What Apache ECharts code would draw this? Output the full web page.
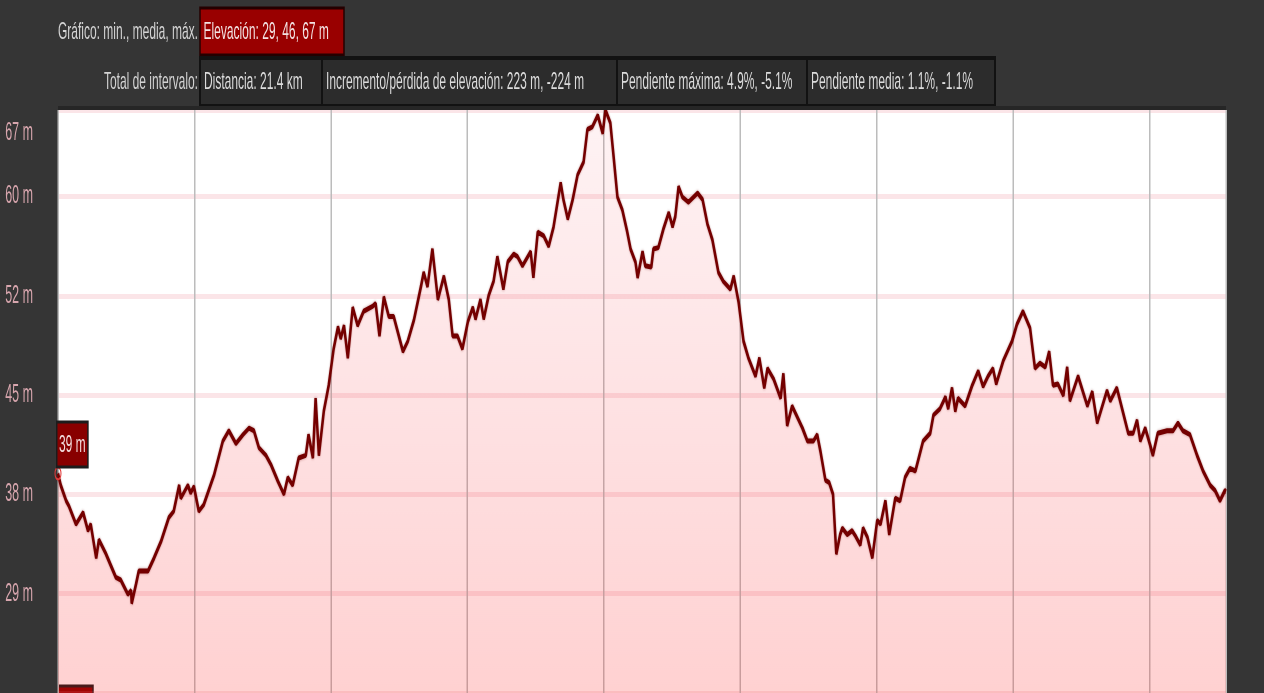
<!DOCTYPE html>
<html>
<head>
<meta charset="utf-8">
<script src="https://cdn.jsdelivr.net/npm/echarts@6/dist/echarts.min.js"></script>
<style>
html,body{margin:0;padding:0;background:#353535;overflow:hidden;}
#wrap{position:absolute;left:0;top:0;width:1264px;height:693px;overflow:hidden;background:#353535;}
#chart{width:2528px;height:693px;transform:scale(0.5,1);transform-origin:0 0;}
</style>
</head>
<body>
<div id="wrap"><div id="chart"></div></div>
<script>
// ---- data (distance in km, elevation in m) ----
const km = [0,0.05,0.15,0.20,0.33,0.46,0.55,0.60,0.70,0.75,0.88,1.06,1.15,1.28,1.34,1.35,1.43,1.48,1.65,1.76,1.89,2.03,2.12,2.22,2.25,2.38,2.43,2.49,2.58,2.67,2.86,3.02,3.13,3.26,3.39,3.50,
3.59,3.68,3.81,3.90,4.03,4.14,4.21,4.30,4.41,4.54,4.59,4.67,4.72,4.78,4.87,4.96,5.05,5.13,5.18,5.24,5.31,5.40,5.49,5.60,5.77,5.82,5.89,5.97,6.06,6.15,6.32,6.41,6.52,6.65,6.70,6.77,6.86,6.96,
7.07,7.16,7.23,7.32,7.41,7.51,7.60,7.65,7.74,7.80,7.89,7.98,8.05,8.16,8.24,8.35,8.42,8.51,8.66,8.71,8.79,8.90,8.99,9.08,9.21,9.26,9.34,9.43,9.52,9.63,9.70,9.79,9.89,9.98,10.03,10.12,10.18,10.25,10.34,10.43,10.49,
10.58,10.62,10.71,10.76,10.87,10.91,11.00,11.09,11.19,11.26,11.31,11.37,11.44,11.55,11.72,11.81,11.90,11.99,12.10,12.19,12.32,12.38,12.47,12.56,12.65,12.78,12.85,12.94,13.00,13.11,13.24,13.29,13.36,13.45,13.64,13.73,13.84,13.91,13.97,14.06,14.13,14.20,14.26,14.33,
14.37,14.46,14.55,14.61,14.70,14.75,14.83,14.92,15.01,15.07,15.16,15.23,15.34,15.43,15.52,15.61,15.71,15.85,15.98,16.04,16.16,16.26,16.31,16.38,16.44,16.49,16.62,16.75,16.86,16.95,17.04,17.13,17.19,17.32,17.48,17.57,17.68,17.81,
17.90,17.99,18.09,18.16,18.23,18.32,18.42,18.49,18.54,18.69,18.86,18.95,19.04,19.22,19.28,19.40,19.46,19.61,19.70,19.77,19.83,19.92,20.01,20.06,20.15,20.32,20.43,20.52,20.61,20.74,20.87,20.98,21.11,21.20,21.29,21.38,21.40];
const elev = [39.0,38.1,36.9,36.5,35.1,36.0,34.6,35.1,32.5,33.9,32.8,31.0,30.8,29.7,30.0,29.0,30.5,31.5,31.5,32.5,33.8,35.6,36.1,38.1,37.1,38.1,37.5,38.0,36.1,36.6,38.9,41.5,42.3,41.3,42.0,42.5,
42.3,41.0,40.4,39.7,38.4,37.4,38.7,38.1,40.2,40.4,42.0,40.2,44.8,40.4,43.8,45.8,48.6,50.3,49.4,50.4,47.9,51.8,50.4,51.5,51.9,52.1,49.6,52.6,51.1,51.1,48.4,49.2,50.8,53.4,54.5,53.4,56.3,52.4,
54.2,52.4,49.6,49.6,48.6,50.7,51.8,50.9,52.4,50.9,52.7,53.8,55.7,53.2,55.3,55.9,55.7,55.0,56.1,54.1,57.6,57.3,56.5,58.0,61.4,60.1,58.6,60.1,62.0,63.0,65.5,65.7,66.6,65.2,67.0,66.0,63.4,60.3,59.3,57.6,56.3,
55.3,54.1,56.1,55.0,54.9,56.3,56.4,57.8,59.1,58.0,58.8,61.1,60.3,59.9,60.6,60.1,58.2,57.0,54.5,53.8,53.2,54.2,52.2,49.2,47.9,46.5,47.9,45.6,47.1,46.3,44.8,46.7,42.7,44.2,42.5,41.5,41.5,42.0,40.7,38.5,38.3,37.4,32.8,34.3,
34.8,34.3,34.6,34.2,33.5,34.8,34.1,32.5,35.4,35.1,36.9,34.3,37.1,36.9,38.7,39.4,39.2,41.5,42.1,43.5,44.0,44.9,44.0,45.6,43.8,44.8,44.2,45.8,46.9,45.7,46.5,47.1,45.9,47.7,49.2,50.5,51.5,50.2,
47.1,47.5,47.2,48.4,45.8,45.9,45.0,47.2,44.6,46.5,44.2,45.3,42.9,45.4,44.6,45.6,44.6,42.1,42.1,43.1,41.5,42.5,41.2,40.4,42.1,42.3,42.3,42.9,42.3,42.0,40.4,39.2,38.1,37.7,36.9,37.7,37.6];
const yTickLabels = ['29 m','38 m','45 m','52 m','60 m','67 m'];
const row1Label = 'Gráfico: min., media, máx.';
const row1Box = 'Elevación: 29, 46, 67 m';
const row2Label = 'Total de intervalo:';
const row2Boxes = ['Distancia: 21.4 km','Incremento/pérdida de elevación: 223 m, -224 m','Pendiente máxima: 4.9%, -5.1%','Pendiente media: 1.1%, -1.1%'];

// ---- layout (internal coordinates: chart is drawn 2x wide and squeezed horizontally) ----
const FONT = '"Liberation Sans", Arial, sans-serif';
const font24 = '24px ' + FONT;
const row2Edges = [400, 644, 1234, 1614, 1990];

const chart = echarts.init(document.getElementById('chart'));
const data = km.map((k, i) => [k, elev[i]]);

const graphics = [
  {type:'text', x:396, y:32, style:{text:row1Label, font:font24, fill:'#d4d4d4', align:'right', verticalAlign:'middle'}},
  {type:'rect', shape:{x:400, y:8, width:288, height:47}, style:{fill:'#990000', stroke:'#240000', lineWidth:3}},
  {type:'text', x:407, y:32, style:{text:row1Box, font:font24, fill:'#f3e3e3', align:'left', verticalAlign:'middle'}},
  {type:'text', x:396, y:82, style:{text:row2Label, font:font24, fill:'#d4d4d4', align:'right', verticalAlign:'middle'}},
  {type:'rect', shape:{x:116, y:686, width:70, height:12}, style:{fill:'#8a0000', stroke:'#1c1c1c', lineWidth:3}}
];
for (let i = 0; i < row2Boxes.length; i++) {
  graphics.push({type:'rect', shape:{x:row2Edges[i], y:58, width:row2Edges[i+1]-row2Edges[i], height:48},
    style:{fill:'#2c2c2c', stroke:'#121212', lineWidth:4}});
  graphics.push({type:'text', x:row2Edges[i] + 8, y:82,
    style:{text:row2Boxes[i], font:font24, fill:'#dcdcdc', align:'left', verticalAlign:'middle'}});
}
// dark top edge of the plot
graphics.push({type:'rect', z:100, shape:{x:116, y:106, width:2336, height:4}, style:{fill:'#262626'}});

const labelColor = '#d8a6ae';
chart.setOption({
  backgroundColor:'#353535',
  animation:false,
  grid:{left:116, right:76, top:110, bottom:-2.75, show:true, backgroundColor:'#ffffff', borderWidth:0},
  xAxis:{type:'value', min:0, max:21.4, interval:2.5,
    axisLine:{show:false}, axisTick:{show:false}, axisLabel:{show:false},
    splitLine:{show:true, lineStyle:{color:'#bcbcbc', width:3}}},
  yAxis:[
    {type:'value', min:22.1, max:67.0, show:false, splitLine:{show:false}},
    {type:'value', min:-1, max:4.872, interval:1, position:'left',
      axisLine:{show:false}, axisTick:{show:false},
      splitLine:{show:true, lineStyle:{color:'rgba(232,110,128,0.18)', width:5}},
      axisLabel:{show:true, margin:50, color:labelColor, fontSize:25, fontFamily:FONT,
        showMaxLabel:true, showMinLabel:true, hideOverlap:false,
        formatter:function(v){
          if (v > 4.5) return '{top|' + yTickLabels[5] + '}';
          const i = Math.round(v);
          return (i >= 0 && i < 5) ? yTickLabels[i] : '';
        },
        rich:{top:{padding:[46,0,0,0], color:labelColor, fontSize:25, fontFamily:FONT}}
      }}
  ],
  series:[{
    type:'line', yAxisIndex:0, data:data, showSymbol:false, smooth:false,
    lineStyle:{color:'#740000', width:5, shadowColor:'rgba(110,0,0,0.45)', shadowBlur:3},
    areaStyle:{color:new echarts.graphic.LinearGradient(0,0,0,1,[
      {offset:0, color:'rgba(245,20,40,0.07)'},
      {offset:1, color:'rgba(255,20,20,0.28)'}
    ])},
    markPoint:{
      symbol:'circle', symbolSize:12, silent:true,
      itemStyle:{color:'rgba(0,0,0,0)', borderColor:'#e23b3b', borderWidth:2},
      label:{show:true, formatter:Math.round(elev[0]) + ' m', position:[6,-1], align:'left', verticalAlign:'bottom',
        backgroundColor:'#880000', borderColor:'#1c1c1c', borderWidth:3, padding:[10,3,8,3],
        color:'#f3dede', fontSize:24, fontFamily:FONT},
      data:[{coord:[km[0], elev[0]]}]
    }
  }],
  graphic:graphics
});
</script>
</body>
</html>
